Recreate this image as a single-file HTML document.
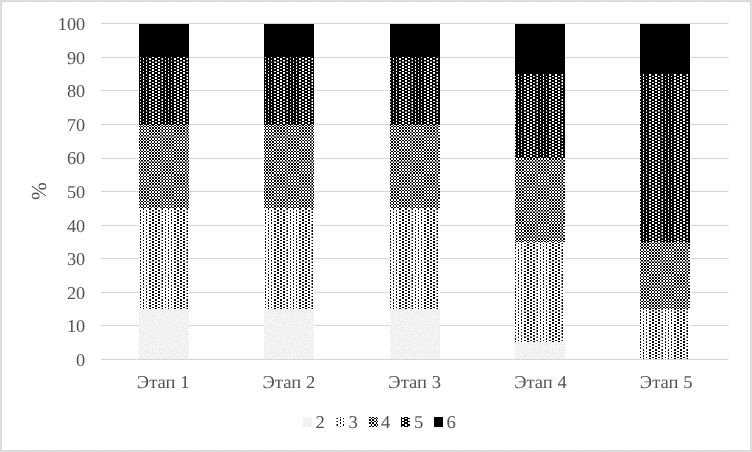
<!DOCTYPE html><html><head><meta charset="utf-8"><title>chart</title><style>html,body{margin:0;padding:0;background:#fff}.t{font-family:"Liberation Serif",serif;font-size:18.1px;fill:#525252;text-rendering:geometricPrecision}</style></head><body><svg width="752" height="452" viewBox="0 0 752 452" style="display:block">
<defs><pattern id="p3" patternUnits="userSpaceOnUse" x="24" y="13" width="25" height="25"><rect width="25" height="25" fill="#ffffff"/><g shape-rendering="crispEdges"><rect x="3" y="0" width="2" height="1" fill="#000000"/><rect x="9" y="0" width="2" height="1" fill="#000000"/><rect x="16" y="0" width="1" height="1" fill="#000000"/><rect x="22" y="0" width="1" height="1" fill="#000000"/><rect x="3" y="1" width="2" height="1" fill="#000000"/><rect x="9" y="1" width="2" height="1" fill="#000000"/><rect x="16" y="1" width="1" height="1" fill="#000000"/><rect x="22" y="1" width="1" height="1" fill="#000000"/><rect x="0" y="2" width="2" height="1" fill="#000000"/><rect x="6" y="2" width="2" height="1" fill="#000000"/><rect x="12" y="2" width="1" height="1" fill="#808080"/><rect x="13" y="2" width="1" height="1" fill="#000000"/><rect x="19" y="2" width="1" height="1" fill="#000000"/><rect x="3" y="3" width="2" height="1" fill="#000000"/><rect x="9" y="3" width="2" height="1" fill="#000000"/><rect x="16" y="3" width="1" height="1" fill="#000000"/><rect x="22" y="3" width="1" height="1" fill="#000000"/><rect x="3" y="4" width="2" height="1" fill="#000000"/><rect x="9" y="4" width="2" height="1" fill="#000000"/><rect x="16" y="4" width="1" height="1" fill="#000000"/><rect x="22" y="4" width="1" height="1" fill="#000000"/><rect x="0" y="5" width="2" height="1" fill="#000000"/><rect x="6" y="5" width="2" height="1" fill="#000000"/><rect x="12" y="5" width="1" height="1" fill="#808080"/><rect x="13" y="5" width="1" height="1" fill="#000000"/><rect x="19" y="5" width="1" height="1" fill="#000000"/><rect x="3" y="6" width="2" height="1" fill="#000000"/><rect x="9" y="6" width="2" height="1" fill="#000000"/><rect x="16" y="6" width="1" height="1" fill="#000000"/><rect x="22" y="6" width="1" height="1" fill="#000000"/><rect x="3" y="7" width="2" height="1" fill="#000000"/><rect x="9" y="7" width="2" height="1" fill="#000000"/><rect x="16" y="7" width="1" height="1" fill="#000000"/><rect x="22" y="7" width="1" height="1" fill="#000000"/><rect x="0" y="8" width="2" height="1" fill="#000000"/><rect x="6" y="8" width="2" height="1" fill="#000000"/><rect x="12" y="8" width="1" height="1" fill="#808080"/><rect x="13" y="8" width="1" height="1" fill="#000000"/><rect x="19" y="8" width="1" height="1" fill="#000000"/><rect x="3" y="9" width="2" height="1" fill="#000000"/><rect x="9" y="9" width="2" height="1" fill="#000000"/><rect x="16" y="9" width="1" height="1" fill="#000000"/><rect x="22" y="9" width="1" height="1" fill="#000000"/><rect x="3" y="10" width="2" height="1" fill="#000000"/><rect x="9" y="10" width="2" height="1" fill="#000000"/><rect x="16" y="10" width="1" height="1" fill="#000000"/><rect x="22" y="10" width="1" height="1" fill="#000000"/><rect x="0" y="11" width="2" height="1" fill="#000000"/><rect x="6" y="11" width="2" height="1" fill="#000000"/><rect x="12" y="11" width="1" height="1" fill="#808080"/><rect x="13" y="11" width="1" height="1" fill="#000000"/><rect x="19" y="11" width="1" height="1" fill="#000000"/><rect x="0" y="12" width="2" height="1" fill="#000000"/><rect x="6" y="12" width="2" height="1" fill="#000000"/><rect x="12" y="12" width="1" height="1" fill="#808080"/><rect x="13" y="12" width="1" height="1" fill="#000000"/><rect x="19" y="12" width="1" height="1" fill="#000000"/><rect x="3" y="13" width="2" height="1" fill="#000000"/><rect x="9" y="13" width="2" height="1" fill="#000000"/><rect x="16" y="13" width="1" height="1" fill="#000000"/><rect x="22" y="13" width="1" height="1" fill="#000000"/><rect x="0" y="14" width="2" height="1" fill="#000000"/><rect x="6" y="14" width="2" height="1" fill="#000000"/><rect x="12" y="14" width="1" height="1" fill="#808080"/><rect x="13" y="14" width="1" height="1" fill="#000000"/><rect x="19" y="14" width="1" height="1" fill="#000000"/><rect x="0" y="15" width="2" height="1" fill="#000000"/><rect x="6" y="15" width="2" height="1" fill="#000000"/><rect x="12" y="15" width="1" height="1" fill="#808080"/><rect x="13" y="15" width="1" height="1" fill="#000000"/><rect x="19" y="15" width="1" height="1" fill="#000000"/><rect x="3" y="16" width="2" height="1" fill="#000000"/><rect x="9" y="16" width="2" height="1" fill="#000000"/><rect x="16" y="16" width="1" height="1" fill="#000000"/><rect x="22" y="16" width="1" height="1" fill="#000000"/><rect x="0" y="17" width="2" height="1" fill="#000000"/><rect x="6" y="17" width="2" height="1" fill="#000000"/><rect x="12" y="17" width="1" height="1" fill="#808080"/><rect x="13" y="17" width="1" height="1" fill="#000000"/><rect x="19" y="17" width="1" height="1" fill="#000000"/><rect x="0" y="18" width="2" height="1" fill="#000000"/><rect x="6" y="18" width="2" height="1" fill="#000000"/><rect x="12" y="18" width="1" height="1" fill="#808080"/><rect x="13" y="18" width="1" height="1" fill="#000000"/><rect x="19" y="18" width="1" height="1" fill="#000000"/><rect x="3" y="19" width="2" height="1" fill="#000000"/><rect x="9" y="19" width="2" height="1" fill="#000000"/><rect x="16" y="19" width="1" height="1" fill="#000000"/><rect x="22" y="19" width="1" height="1" fill="#000000"/><rect x="0" y="20" width="2" height="1" fill="#000000"/><rect x="6" y="20" width="2" height="1" fill="#000000"/><rect x="12" y="20" width="1" height="1" fill="#808080"/><rect x="13" y="20" width="1" height="1" fill="#000000"/><rect x="19" y="20" width="1" height="1" fill="#000000"/><rect x="0" y="21" width="2" height="1" fill="#000000"/><rect x="6" y="21" width="2" height="1" fill="#000000"/><rect x="12" y="21" width="1" height="1" fill="#808080"/><rect x="13" y="21" width="1" height="1" fill="#000000"/><rect x="19" y="21" width="1" height="1" fill="#000000"/><rect x="3" y="22" width="2" height="1" fill="#000000"/><rect x="9" y="22" width="2" height="1" fill="#000000"/><rect x="16" y="22" width="1" height="1" fill="#000000"/><rect x="22" y="22" width="1" height="1" fill="#000000"/><rect x="0" y="23" width="2" height="1" fill="#808080"/><rect x="3" y="23" width="2" height="1" fill="#808080"/><rect x="6" y="23" width="2" height="1" fill="#808080"/><rect x="9" y="23" width="2" height="1" fill="#808080"/><rect x="12" y="23" width="1" height="1" fill="#bfbfbf"/><rect x="13" y="23" width="1" height="1" fill="#808080"/><rect x="16" y="23" width="1" height="1" fill="#808080"/><rect x="19" y="23" width="1" height="1" fill="#808080"/><rect x="22" y="23" width="1" height="1" fill="#808080"/><rect x="0" y="24" width="2" height="1" fill="#000000"/><rect x="6" y="24" width="2" height="1" fill="#000000"/><rect x="12" y="24" width="1" height="1" fill="#808080"/><rect x="13" y="24" width="1" height="1" fill="#000000"/><rect x="19" y="24" width="1" height="1" fill="#000000"/></g></pattern><pattern id="p5" patternUnits="userSpaceOnUse" x="24" y="13" width="25" height="25"><rect width="25" height="25" fill="#ffffff"/><g shape-rendering="crispEdges"><rect x="0" y="0" width="3" height="1" fill="#000000"/><rect x="5" y="0" width="4" height="1" fill="#000000"/><rect x="11" y="0" width="5" height="1" fill="#000000"/><rect x="17" y="0" width="5" height="1" fill="#000000"/><rect x="23" y="0" width="2" height="1" fill="#000000"/><rect x="0" y="1" width="3" height="1" fill="#000000"/><rect x="5" y="1" width="4" height="1" fill="#000000"/><rect x="11" y="1" width="5" height="1" fill="#000000"/><rect x="17" y="1" width="5" height="1" fill="#000000"/><rect x="23" y="1" width="2" height="1" fill="#000000"/><rect x="2" y="2" width="4" height="1" fill="#000000"/><rect x="8" y="2" width="4" height="1" fill="#000000"/><rect x="12" y="2" width="1" height="1" fill="#808080"/><rect x="14" y="2" width="5" height="1" fill="#000000"/><rect x="20" y="2" width="5" height="1" fill="#000000"/><rect x="0" y="3" width="3" height="1" fill="#000000"/><rect x="5" y="3" width="4" height="1" fill="#000000"/><rect x="11" y="3" width="5" height="1" fill="#000000"/><rect x="17" y="3" width="5" height="1" fill="#000000"/><rect x="23" y="3" width="2" height="1" fill="#000000"/><rect x="0" y="4" width="3" height="1" fill="#000000"/><rect x="5" y="4" width="4" height="1" fill="#000000"/><rect x="11" y="4" width="5" height="1" fill="#000000"/><rect x="17" y="4" width="5" height="1" fill="#000000"/><rect x="23" y="4" width="2" height="1" fill="#000000"/><rect x="2" y="5" width="4" height="1" fill="#000000"/><rect x="8" y="5" width="4" height="1" fill="#000000"/><rect x="12" y="5" width="1" height="1" fill="#808080"/><rect x="14" y="5" width="5" height="1" fill="#000000"/><rect x="20" y="5" width="5" height="1" fill="#000000"/><rect x="0" y="6" width="3" height="1" fill="#000000"/><rect x="5" y="6" width="4" height="1" fill="#000000"/><rect x="11" y="6" width="5" height="1" fill="#000000"/><rect x="17" y="6" width="5" height="1" fill="#000000"/><rect x="23" y="6" width="2" height="1" fill="#000000"/><rect x="0" y="7" width="3" height="1" fill="#000000"/><rect x="5" y="7" width="4" height="1" fill="#000000"/><rect x="11" y="7" width="5" height="1" fill="#000000"/><rect x="17" y="7" width="5" height="1" fill="#000000"/><rect x="23" y="7" width="2" height="1" fill="#000000"/><rect x="2" y="8" width="4" height="1" fill="#000000"/><rect x="8" y="8" width="4" height="1" fill="#000000"/><rect x="12" y="8" width="1" height="1" fill="#808080"/><rect x="14" y="8" width="5" height="1" fill="#000000"/><rect x="20" y="8" width="5" height="1" fill="#000000"/><rect x="0" y="9" width="3" height="1" fill="#000000"/><rect x="5" y="9" width="4" height="1" fill="#000000"/><rect x="11" y="9" width="5" height="1" fill="#000000"/><rect x="17" y="9" width="5" height="1" fill="#000000"/><rect x="23" y="9" width="2" height="1" fill="#000000"/><rect x="0" y="10" width="3" height="1" fill="#000000"/><rect x="5" y="10" width="4" height="1" fill="#000000"/><rect x="11" y="10" width="5" height="1" fill="#000000"/><rect x="17" y="10" width="5" height="1" fill="#000000"/><rect x="23" y="10" width="2" height="1" fill="#000000"/><rect x="2" y="11" width="4" height="1" fill="#000000"/><rect x="8" y="11" width="4" height="1" fill="#000000"/><rect x="12" y="11" width="1" height="1" fill="#808080"/><rect x="14" y="11" width="5" height="1" fill="#000000"/><rect x="20" y="11" width="5" height="1" fill="#000000"/><rect x="2" y="12" width="4" height="1" fill="#000000"/><rect x="8" y="12" width="4" height="1" fill="#000000"/><rect x="12" y="12" width="1" height="1" fill="#808080"/><rect x="14" y="12" width="5" height="1" fill="#000000"/><rect x="20" y="12" width="5" height="1" fill="#000000"/><rect x="0" y="13" width="3" height="1" fill="#000000"/><rect x="5" y="13" width="4" height="1" fill="#000000"/><rect x="11" y="13" width="5" height="1" fill="#000000"/><rect x="17" y="13" width="5" height="1" fill="#000000"/><rect x="23" y="13" width="2" height="1" fill="#000000"/><rect x="2" y="14" width="4" height="1" fill="#000000"/><rect x="8" y="14" width="4" height="1" fill="#000000"/><rect x="12" y="14" width="1" height="1" fill="#808080"/><rect x="14" y="14" width="5" height="1" fill="#000000"/><rect x="20" y="14" width="5" height="1" fill="#000000"/><rect x="2" y="15" width="4" height="1" fill="#000000"/><rect x="8" y="15" width="4" height="1" fill="#000000"/><rect x="12" y="15" width="1" height="1" fill="#808080"/><rect x="14" y="15" width="5" height="1" fill="#000000"/><rect x="20" y="15" width="5" height="1" fill="#000000"/><rect x="0" y="16" width="3" height="1" fill="#000000"/><rect x="5" y="16" width="4" height="1" fill="#000000"/><rect x="11" y="16" width="5" height="1" fill="#000000"/><rect x="17" y="16" width="5" height="1" fill="#000000"/><rect x="23" y="16" width="2" height="1" fill="#000000"/><rect x="2" y="17" width="4" height="1" fill="#000000"/><rect x="8" y="17" width="4" height="1" fill="#000000"/><rect x="12" y="17" width="1" height="1" fill="#808080"/><rect x="14" y="17" width="5" height="1" fill="#000000"/><rect x="20" y="17" width="5" height="1" fill="#000000"/><rect x="2" y="18" width="4" height="1" fill="#000000"/><rect x="8" y="18" width="4" height="1" fill="#000000"/><rect x="12" y="18" width="1" height="1" fill="#808080"/><rect x="14" y="18" width="5" height="1" fill="#000000"/><rect x="20" y="18" width="5" height="1" fill="#000000"/><rect x="0" y="19" width="3" height="1" fill="#000000"/><rect x="5" y="19" width="4" height="1" fill="#000000"/><rect x="11" y="19" width="5" height="1" fill="#000000"/><rect x="17" y="19" width="5" height="1" fill="#000000"/><rect x="23" y="19" width="2" height="1" fill="#000000"/><rect x="2" y="20" width="4" height="1" fill="#000000"/><rect x="8" y="20" width="4" height="1" fill="#000000"/><rect x="12" y="20" width="1" height="1" fill="#808080"/><rect x="14" y="20" width="5" height="1" fill="#000000"/><rect x="20" y="20" width="5" height="1" fill="#000000"/><rect x="2" y="21" width="4" height="1" fill="#000000"/><rect x="8" y="21" width="4" height="1" fill="#000000"/><rect x="12" y="21" width="1" height="1" fill="#808080"/><rect x="14" y="21" width="5" height="1" fill="#000000"/><rect x="20" y="21" width="5" height="1" fill="#000000"/><rect x="0" y="22" width="3" height="1" fill="#000000"/><rect x="5" y="22" width="4" height="1" fill="#000000"/><rect x="11" y="22" width="5" height="1" fill="#000000"/><rect x="17" y="22" width="5" height="1" fill="#000000"/><rect x="23" y="22" width="2" height="1" fill="#000000"/><rect x="0" y="23" width="2" height="1" fill="#808080"/><rect x="2" y="23" width="1" height="1" fill="#000000"/><rect x="3" y="23" width="2" height="1" fill="#808080"/><rect x="5" y="23" width="1" height="1" fill="#000000"/><rect x="6" y="23" width="2" height="1" fill="#808080"/><rect x="8" y="23" width="1" height="1" fill="#000000"/><rect x="9" y="23" width="2" height="1" fill="#808080"/><rect x="11" y="23" width="1" height="1" fill="#000000"/><rect x="12" y="23" width="1" height="1" fill="#404040"/><rect x="13" y="23" width="1" height="1" fill="#808080"/><rect x="14" y="23" width="2" height="1" fill="#000000"/><rect x="16" y="23" width="1" height="1" fill="#808080"/><rect x="17" y="23" width="2" height="1" fill="#000000"/><rect x="19" y="23" width="1" height="1" fill="#808080"/><rect x="20" y="23" width="2" height="1" fill="#000000"/><rect x="22" y="23" width="1" height="1" fill="#808080"/><rect x="23" y="23" width="2" height="1" fill="#000000"/><rect x="2" y="24" width="4" height="1" fill="#000000"/><rect x="8" y="24" width="4" height="1" fill="#000000"/><rect x="12" y="24" width="1" height="1" fill="#808080"/><rect x="14" y="24" width="5" height="1" fill="#000000"/><rect x="20" y="24" width="5" height="1" fill="#000000"/></g></pattern><pattern id="p4" patternUnits="userSpaceOnUse" x="24" y="13" width="25" height="25"><rect width="25" height="25" fill="#ffffff"/><g shape-rendering="crispEdges"><rect x="2" y="0" width="1" height="1" fill="#000000"/><rect x="5" y="0" width="1" height="1" fill="#000000"/><rect x="8" y="0" width="1" height="1" fill="#000000"/><rect x="11" y="0" width="1" height="1" fill="#000000"/><rect x="12" y="0" width="1" height="1" fill="#808080"/><rect x="14" y="0" width="2" height="1" fill="#000000"/><rect x="17" y="0" width="2" height="1" fill="#000000"/><rect x="20" y="0" width="2" height="1" fill="#000000"/><rect x="23" y="0" width="2" height="1" fill="#000000"/><rect x="2" y="1" width="1" height="1" fill="#000000"/><rect x="5" y="1" width="1" height="1" fill="#000000"/><rect x="8" y="1" width="1" height="1" fill="#000000"/><rect x="11" y="1" width="1" height="1" fill="#000000"/><rect x="12" y="1" width="1" height="1" fill="#808080"/><rect x="14" y="1" width="2" height="1" fill="#000000"/><rect x="17" y="1" width="2" height="1" fill="#000000"/><rect x="20" y="1" width="2" height="1" fill="#000000"/><rect x="23" y="1" width="2" height="1" fill="#000000"/><rect x="0" y="2" width="2" height="1" fill="#000000"/><rect x="3" y="2" width="2" height="1" fill="#000000"/><rect x="6" y="2" width="2" height="1" fill="#000000"/><rect x="9" y="2" width="2" height="1" fill="#000000"/><rect x="12" y="2" width="1" height="1" fill="#808080"/><rect x="13" y="2" width="1" height="1" fill="#000000"/><rect x="16" y="2" width="1" height="1" fill="#000000"/><rect x="19" y="2" width="1" height="1" fill="#000000"/><rect x="22" y="2" width="1" height="1" fill="#000000"/><rect x="2" y="3" width="1" height="1" fill="#000000"/><rect x="5" y="3" width="1" height="1" fill="#000000"/><rect x="8" y="3" width="1" height="1" fill="#000000"/><rect x="11" y="3" width="1" height="1" fill="#000000"/><rect x="12" y="3" width="1" height="1" fill="#808080"/><rect x="14" y="3" width="2" height="1" fill="#000000"/><rect x="17" y="3" width="2" height="1" fill="#000000"/><rect x="20" y="3" width="2" height="1" fill="#000000"/><rect x="23" y="3" width="2" height="1" fill="#000000"/><rect x="2" y="4" width="1" height="1" fill="#000000"/><rect x="5" y="4" width="1" height="1" fill="#000000"/><rect x="8" y="4" width="1" height="1" fill="#000000"/><rect x="11" y="4" width="1" height="1" fill="#000000"/><rect x="12" y="4" width="1" height="1" fill="#808080"/><rect x="14" y="4" width="2" height="1" fill="#000000"/><rect x="17" y="4" width="2" height="1" fill="#000000"/><rect x="20" y="4" width="2" height="1" fill="#000000"/><rect x="23" y="4" width="2" height="1" fill="#000000"/><rect x="0" y="5" width="2" height="1" fill="#000000"/><rect x="3" y="5" width="2" height="1" fill="#000000"/><rect x="6" y="5" width="2" height="1" fill="#000000"/><rect x="9" y="5" width="2" height="1" fill="#000000"/><rect x="12" y="5" width="1" height="1" fill="#808080"/><rect x="13" y="5" width="1" height="1" fill="#000000"/><rect x="16" y="5" width="1" height="1" fill="#000000"/><rect x="19" y="5" width="1" height="1" fill="#000000"/><rect x="22" y="5" width="1" height="1" fill="#000000"/><rect x="2" y="6" width="1" height="1" fill="#000000"/><rect x="5" y="6" width="1" height="1" fill="#000000"/><rect x="8" y="6" width="1" height="1" fill="#000000"/><rect x="11" y="6" width="1" height="1" fill="#000000"/><rect x="12" y="6" width="1" height="1" fill="#808080"/><rect x="14" y="6" width="2" height="1" fill="#000000"/><rect x="17" y="6" width="2" height="1" fill="#000000"/><rect x="20" y="6" width="2" height="1" fill="#000000"/><rect x="23" y="6" width="2" height="1" fill="#000000"/><rect x="2" y="7" width="1" height="1" fill="#000000"/><rect x="5" y="7" width="1" height="1" fill="#000000"/><rect x="8" y="7" width="1" height="1" fill="#000000"/><rect x="11" y="7" width="1" height="1" fill="#000000"/><rect x="12" y="7" width="1" height="1" fill="#808080"/><rect x="14" y="7" width="2" height="1" fill="#000000"/><rect x="17" y="7" width="2" height="1" fill="#000000"/><rect x="20" y="7" width="2" height="1" fill="#000000"/><rect x="23" y="7" width="2" height="1" fill="#000000"/><rect x="0" y="8" width="2" height="1" fill="#000000"/><rect x="3" y="8" width="2" height="1" fill="#000000"/><rect x="6" y="8" width="2" height="1" fill="#000000"/><rect x="9" y="8" width="2" height="1" fill="#000000"/><rect x="12" y="8" width="1" height="1" fill="#808080"/><rect x="13" y="8" width="1" height="1" fill="#000000"/><rect x="16" y="8" width="1" height="1" fill="#000000"/><rect x="19" y="8" width="1" height="1" fill="#000000"/><rect x="22" y="8" width="1" height="1" fill="#000000"/><rect x="2" y="9" width="1" height="1" fill="#000000"/><rect x="5" y="9" width="1" height="1" fill="#000000"/><rect x="8" y="9" width="1" height="1" fill="#000000"/><rect x="11" y="9" width="1" height="1" fill="#000000"/><rect x="12" y="9" width="1" height="1" fill="#808080"/><rect x="14" y="9" width="2" height="1" fill="#000000"/><rect x="17" y="9" width="2" height="1" fill="#000000"/><rect x="20" y="9" width="2" height="1" fill="#000000"/><rect x="23" y="9" width="2" height="1" fill="#000000"/><rect x="2" y="10" width="1" height="1" fill="#000000"/><rect x="5" y="10" width="1" height="1" fill="#000000"/><rect x="8" y="10" width="1" height="1" fill="#000000"/><rect x="11" y="10" width="1" height="1" fill="#000000"/><rect x="12" y="10" width="1" height="1" fill="#808080"/><rect x="14" y="10" width="2" height="1" fill="#000000"/><rect x="17" y="10" width="2" height="1" fill="#000000"/><rect x="20" y="10" width="2" height="1" fill="#000000"/><rect x="23" y="10" width="2" height="1" fill="#000000"/><rect x="0" y="11" width="2" height="1" fill="#000000"/><rect x="3" y="11" width="2" height="1" fill="#000000"/><rect x="6" y="11" width="2" height="1" fill="#000000"/><rect x="9" y="11" width="2" height="1" fill="#000000"/><rect x="12" y="11" width="1" height="1" fill="#808080"/><rect x="13" y="11" width="1" height="1" fill="#000000"/><rect x="16" y="11" width="1" height="1" fill="#000000"/><rect x="19" y="11" width="1" height="1" fill="#000000"/><rect x="22" y="11" width="1" height="1" fill="#000000"/><rect x="0" y="12" width="2" height="1" fill="#000000"/><rect x="3" y="12" width="2" height="1" fill="#000000"/><rect x="6" y="12" width="2" height="1" fill="#000000"/><rect x="9" y="12" width="2" height="1" fill="#000000"/><rect x="12" y="12" width="1" height="1" fill="#808080"/><rect x="13" y="12" width="1" height="1" fill="#000000"/><rect x="16" y="12" width="1" height="1" fill="#000000"/><rect x="19" y="12" width="1" height="1" fill="#000000"/><rect x="22" y="12" width="1" height="1" fill="#000000"/><rect x="2" y="13" width="1" height="1" fill="#000000"/><rect x="5" y="13" width="1" height="1" fill="#000000"/><rect x="8" y="13" width="1" height="1" fill="#000000"/><rect x="11" y="13" width="1" height="1" fill="#000000"/><rect x="12" y="13" width="1" height="1" fill="#808080"/><rect x="14" y="13" width="2" height="1" fill="#000000"/><rect x="17" y="13" width="2" height="1" fill="#000000"/><rect x="20" y="13" width="2" height="1" fill="#000000"/><rect x="23" y="13" width="2" height="1" fill="#000000"/><rect x="0" y="14" width="2" height="1" fill="#000000"/><rect x="3" y="14" width="2" height="1" fill="#000000"/><rect x="6" y="14" width="2" height="1" fill="#000000"/><rect x="9" y="14" width="2" height="1" fill="#000000"/><rect x="12" y="14" width="1" height="1" fill="#808080"/><rect x="13" y="14" width="1" height="1" fill="#000000"/><rect x="16" y="14" width="1" height="1" fill="#000000"/><rect x="19" y="14" width="1" height="1" fill="#000000"/><rect x="22" y="14" width="1" height="1" fill="#000000"/><rect x="0" y="15" width="2" height="1" fill="#000000"/><rect x="3" y="15" width="2" height="1" fill="#000000"/><rect x="6" y="15" width="2" height="1" fill="#000000"/><rect x="9" y="15" width="2" height="1" fill="#000000"/><rect x="12" y="15" width="1" height="1" fill="#808080"/><rect x="13" y="15" width="1" height="1" fill="#000000"/><rect x="16" y="15" width="1" height="1" fill="#000000"/><rect x="19" y="15" width="1" height="1" fill="#000000"/><rect x="22" y="15" width="1" height="1" fill="#000000"/><rect x="2" y="16" width="1" height="1" fill="#000000"/><rect x="5" y="16" width="1" height="1" fill="#000000"/><rect x="8" y="16" width="1" height="1" fill="#000000"/><rect x="11" y="16" width="1" height="1" fill="#000000"/><rect x="12" y="16" width="1" height="1" fill="#808080"/><rect x="14" y="16" width="2" height="1" fill="#000000"/><rect x="17" y="16" width="2" height="1" fill="#000000"/><rect x="20" y="16" width="2" height="1" fill="#000000"/><rect x="23" y="16" width="2" height="1" fill="#000000"/><rect x="0" y="17" width="2" height="1" fill="#000000"/><rect x="3" y="17" width="2" height="1" fill="#000000"/><rect x="6" y="17" width="2" height="1" fill="#000000"/><rect x="9" y="17" width="2" height="1" fill="#000000"/><rect x="12" y="17" width="1" height="1" fill="#808080"/><rect x="13" y="17" width="1" height="1" fill="#000000"/><rect x="16" y="17" width="1" height="1" fill="#000000"/><rect x="19" y="17" width="1" height="1" fill="#000000"/><rect x="22" y="17" width="1" height="1" fill="#000000"/><rect x="0" y="18" width="2" height="1" fill="#000000"/><rect x="3" y="18" width="2" height="1" fill="#000000"/><rect x="6" y="18" width="2" height="1" fill="#000000"/><rect x="9" y="18" width="2" height="1" fill="#000000"/><rect x="12" y="18" width="1" height="1" fill="#808080"/><rect x="13" y="18" width="1" height="1" fill="#000000"/><rect x="16" y="18" width="1" height="1" fill="#000000"/><rect x="19" y="18" width="1" height="1" fill="#000000"/><rect x="22" y="18" width="1" height="1" fill="#000000"/><rect x="2" y="19" width="1" height="1" fill="#000000"/><rect x="5" y="19" width="1" height="1" fill="#000000"/><rect x="8" y="19" width="1" height="1" fill="#000000"/><rect x="11" y="19" width="1" height="1" fill="#000000"/><rect x="12" y="19" width="1" height="1" fill="#808080"/><rect x="14" y="19" width="2" height="1" fill="#000000"/><rect x="17" y="19" width="2" height="1" fill="#000000"/><rect x="20" y="19" width="2" height="1" fill="#000000"/><rect x="23" y="19" width="2" height="1" fill="#000000"/><rect x="0" y="20" width="2" height="1" fill="#000000"/><rect x="3" y="20" width="2" height="1" fill="#000000"/><rect x="6" y="20" width="2" height="1" fill="#000000"/><rect x="9" y="20" width="2" height="1" fill="#000000"/><rect x="12" y="20" width="1" height="1" fill="#808080"/><rect x="13" y="20" width="1" height="1" fill="#000000"/><rect x="16" y="20" width="1" height="1" fill="#000000"/><rect x="19" y="20" width="1" height="1" fill="#000000"/><rect x="22" y="20" width="1" height="1" fill="#000000"/><rect x="0" y="21" width="2" height="1" fill="#000000"/><rect x="3" y="21" width="2" height="1" fill="#000000"/><rect x="6" y="21" width="2" height="1" fill="#000000"/><rect x="9" y="21" width="2" height="1" fill="#000000"/><rect x="12" y="21" width="1" height="1" fill="#808080"/><rect x="13" y="21" width="1" height="1" fill="#000000"/><rect x="16" y="21" width="1" height="1" fill="#000000"/><rect x="19" y="21" width="1" height="1" fill="#000000"/><rect x="22" y="21" width="1" height="1" fill="#000000"/><rect x="2" y="22" width="1" height="1" fill="#000000"/><rect x="5" y="22" width="1" height="1" fill="#000000"/><rect x="8" y="22" width="1" height="1" fill="#000000"/><rect x="11" y="22" width="1" height="1" fill="#000000"/><rect x="12" y="22" width="1" height="1" fill="#808080"/><rect x="14" y="22" width="2" height="1" fill="#000000"/><rect x="17" y="22" width="2" height="1" fill="#000000"/><rect x="20" y="22" width="2" height="1" fill="#000000"/><rect x="23" y="22" width="2" height="1" fill="#000000"/><rect x="0" y="23" width="25" height="1" fill="#808080"/><rect x="0" y="24" width="2" height="1" fill="#000000"/><rect x="3" y="24" width="2" height="1" fill="#000000"/><rect x="6" y="24" width="2" height="1" fill="#000000"/><rect x="9" y="24" width="2" height="1" fill="#000000"/><rect x="12" y="24" width="1" height="1" fill="#808080"/><rect x="13" y="24" width="1" height="1" fill="#000000"/><rect x="16" y="24" width="1" height="1" fill="#000000"/><rect x="19" y="24" width="1" height="1" fill="#000000"/><rect x="22" y="24" width="1" height="1" fill="#000000"/></g></pattern><pattern id="p2" patternUnits="userSpaceOnUse" x="0" y="0" width="25" height="25"><rect width="25" height="25" fill="#eeeeee"/><g fill="#fff" shape-rendering="crispEdges"><rect x="0" y="1" width="1" height="1"/><rect x="0" y="3" width="1" height="1"/><rect x="0" y="8" width="1" height="1"/><rect x="0" y="12" width="1" height="1"/><rect x="0" y="15" width="1" height="1"/><rect x="0" y="17" width="1" height="1"/><rect x="0" y="19" width="1" height="1"/><rect x="1" y="0" width="1" height="1"/><rect x="1" y="7" width="1" height="1"/><rect x="1" y="10" width="1" height="1"/><rect x="1" y="14" width="1" height="1"/><rect x="1" y="20" width="1" height="1"/><rect x="1" y="23" width="1" height="1"/><rect x="2" y="5" width="1" height="1"/><rect x="2" y="8" width="1" height="1"/><rect x="2" y="18" width="1" height="1"/><rect x="3" y="3" width="1" height="1"/><rect x="3" y="9" width="1" height="1"/><rect x="3" y="12" width="1" height="1"/><rect x="3" y="14" width="1" height="1"/><rect x="3" y="19" width="1" height="1"/><rect x="3" y="23" width="1" height="1"/><rect x="4" y="1" width="1" height="1"/><rect x="4" y="7" width="1" height="1"/><rect x="4" y="11" width="1" height="1"/><rect x="4" y="17" width="1" height="1"/><rect x="4" y="21" width="1" height="1"/><rect x="5" y="0" width="1" height="1"/><rect x="5" y="5" width="1" height="1"/><rect x="5" y="14" width="1" height="1"/><rect x="5" y="20" width="1" height="1"/><rect x="5" y="23" width="1" height="1"/><rect x="6" y="1" width="1" height="1"/><rect x="6" y="3" width="1" height="1"/><rect x="6" y="7" width="1" height="1"/><rect x="6" y="11" width="1" height="1"/><rect x="6" y="17" width="1" height="1"/><rect x="7" y="5" width="1" height="1"/><rect x="7" y="15" width="1" height="1"/><rect x="7" y="18" width="1" height="1"/><rect x="7" y="20" width="1" height="1"/><rect x="7" y="22" width="1" height="1"/><rect x="7" y="24" width="1" height="1"/><rect x="8" y="7" width="1" height="1"/><rect x="8" y="9" width="1" height="1"/><rect x="8" y="11" width="1" height="1"/><rect x="8" y="13" width="1" height="1"/><rect x="8" y="16" width="1" height="1"/><rect x="8" y="21" width="1" height="1"/><rect x="9" y="2" width="1" height="1"/><rect x="9" y="4" width="1" height="1"/><rect x="9" y="10" width="1" height="1"/><rect x="9" y="14" width="1" height="1"/><rect x="9" y="18" width="1" height="1"/><rect x="10" y="1" width="1" height="1"/><rect x="10" y="5" width="1" height="1"/><rect x="10" y="8" width="1" height="1"/><rect x="10" y="12" width="1" height="1"/><rect x="10" y="16" width="1" height="1"/><rect x="10" y="21" width="1" height="1"/><rect x="11" y="7" width="1" height="1"/><rect x="11" y="10" width="1" height="1"/><rect x="11" y="13" width="1" height="1"/><rect x="11" y="17" width="1" height="1"/><rect x="11" y="20" width="1" height="1"/><rect x="11" y="24" width="1" height="1"/><rect x="12" y="4" width="1" height="1"/><rect x="12" y="11" width="1" height="1"/><rect x="12" y="23" width="1" height="1"/><rect x="13" y="1" width="1" height="1"/><rect x="13" y="3" width="1" height="1"/><rect x="13" y="5" width="1" height="1"/><rect x="13" y="7" width="1" height="1"/><rect x="13" y="13" width="1" height="1"/><rect x="13" y="15" width="1" height="1"/><rect x="13" y="17" width="1" height="1"/><rect x="13" y="20" width="1" height="1"/><rect x="13" y="22" width="1" height="1"/><rect x="14" y="10" width="1" height="1"/><rect x="15" y="0" width="1" height="1"/><rect x="15" y="2" width="1" height="1"/><rect x="15" y="7" width="1" height="1"/><rect x="15" y="11" width="1" height="1"/><rect x="15" y="14" width="1" height="1"/><rect x="15" y="16" width="1" height="1"/><rect x="15" y="19" width="1" height="1"/><rect x="15" y="23" width="1" height="1"/><rect x="16" y="3" width="1" height="1"/><rect x="16" y="5" width="1" height="1"/><rect x="16" y="10" width="1" height="1"/><rect x="16" y="15" width="1" height="1"/><rect x="16" y="17" width="1" height="1"/><rect x="16" y="20" width="1" height="1"/><rect x="16" y="22" width="1" height="1"/><rect x="17" y="1" width="1" height="1"/><rect x="17" y="7" width="1" height="1"/><rect x="17" y="13" width="1" height="1"/><rect x="17" y="24" width="1" height="1"/><rect x="18" y="0" width="1" height="1"/><rect x="18" y="3" width="1" height="1"/><rect x="18" y="5" width="1" height="1"/><rect x="18" y="15" width="1" height="1"/><rect x="18" y="19" width="1" height="1"/><rect x="18" y="21" width="1" height="1"/><rect x="19" y="6" width="1" height="1"/><rect x="19" y="9" width="1" height="1"/><rect x="19" y="11" width="1" height="1"/><rect x="19" y="13" width="1" height="1"/><rect x="19" y="17" width="1" height="1"/><rect x="19" y="22" width="1" height="1"/><rect x="20" y="2" width="1" height="1"/><rect x="20" y="4" width="1" height="1"/><rect x="20" y="16" width="1" height="1"/><rect x="20" y="18" width="1" height="1"/><rect x="20" y="20" width="1" height="1"/><rect x="20" y="23" width="1" height="1"/><rect x="21" y="5" width="1" height="1"/><rect x="21" y="7" width="1" height="1"/><rect x="21" y="11" width="1" height="1"/><rect x="21" y="13" width="1" height="1"/><rect x="21" y="21" width="1" height="1"/><rect x="22" y="4" width="1" height="1"/><rect x="22" y="8" width="1" height="1"/><rect x="22" y="15" width="1" height="1"/><rect x="22" y="17" width="1" height="1"/><rect x="22" y="19" width="1" height="1"/><rect x="22" y="24" width="1" height="1"/><rect x="23" y="2" width="1" height="1"/><rect x="23" y="10" width="1" height="1"/><rect x="23" y="13" width="1" height="1"/><rect x="23" y="18" width="1" height="1"/><rect x="23" y="22" width="1" height="1"/><rect x="24" y="5" width="1" height="1"/><rect x="24" y="21" width="1" height="1"/><rect x="24" y="23" width="1" height="1"/></g></pattern></defs>
<rect width="752" height="452" fill="#dedede"/><rect x="2" y="2" width="748" height="448" fill="#fff"/>
<g stroke="#d0d0d0" stroke-width="1" stroke-dasharray="1 2" shape-rendering="crispEdges" fill="none"><line x1="2" y1="1.5" x2="750" y2="1.5"/><line x1="2" y1="450.5" x2="750" y2="450.5"/><line x1="1.5" y1="2" x2="1.5" y2="450"/><line x1="750.5" y1="2" x2="750.5" y2="450"/></g>
<rect x="101" y="359" width="628" height="1" fill="#e6e6e6" shape-rendering="crispEdges"/><line x1="101" y1="359.5" x2="729" y2="359.5" stroke="#c9c9c9" stroke-width="1" stroke-dasharray="1 1" shape-rendering="crispEdges"/>
<text transform="translate(85.2,366.0) scale(1.012,1)" text-anchor="end" class="t">0</text>
<rect x="101" y="325" width="628" height="1" fill="#e6e6e6" shape-rendering="crispEdges"/><line x1="101" y1="325.5" x2="729" y2="325.5" stroke="#c9c9c9" stroke-width="1" stroke-dasharray="1 1" shape-rendering="crispEdges"/>
<text transform="translate(85.2,332.4) scale(1.012,1)" text-anchor="end" class="t">10</text>
<rect x="101" y="292" width="628" height="1" fill="#e6e6e6" shape-rendering="crispEdges"/><line x1="101" y1="292.5" x2="729" y2="292.5" stroke="#c9c9c9" stroke-width="1" stroke-dasharray="1 1" shape-rendering="crispEdges"/>
<text transform="translate(85.2,298.8) scale(1.012,1)" text-anchor="end" class="t">20</text>
<rect x="101" y="258" width="628" height="1" fill="#e6e6e6" shape-rendering="crispEdges"/><line x1="101" y1="258.5" x2="729" y2="258.5" stroke="#c9c9c9" stroke-width="1" stroke-dasharray="1 1" shape-rendering="crispEdges"/>
<text transform="translate(85.2,265.2) scale(1.012,1)" text-anchor="end" class="t">30</text>
<rect x="101" y="225" width="628" height="1" fill="#e6e6e6" shape-rendering="crispEdges"/><line x1="101" y1="225.5" x2="729" y2="225.5" stroke="#c9c9c9" stroke-width="1" stroke-dasharray="1 1" shape-rendering="crispEdges"/>
<text transform="translate(85.2,231.6) scale(1.012,1)" text-anchor="end" class="t">40</text>
<rect x="101" y="191" width="628" height="1" fill="#e6e6e6" shape-rendering="crispEdges"/><line x1="101" y1="191.5" x2="729" y2="191.5" stroke="#c9c9c9" stroke-width="1" stroke-dasharray="1 1" shape-rendering="crispEdges"/>
<text transform="translate(85.2,198.0) scale(1.012,1)" text-anchor="end" class="t">50</text>
<rect x="101" y="158" width="628" height="1" fill="#e6e6e6" shape-rendering="crispEdges"/><line x1="101" y1="158.5" x2="729" y2="158.5" stroke="#c9c9c9" stroke-width="1" stroke-dasharray="1 1" shape-rendering="crispEdges"/>
<text transform="translate(85.2,164.4) scale(1.012,1)" text-anchor="end" class="t">60</text>
<rect x="101" y="124" width="628" height="1" fill="#e6e6e6" shape-rendering="crispEdges"/><line x1="101" y1="124.5" x2="729" y2="124.5" stroke="#c9c9c9" stroke-width="1" stroke-dasharray="1 1" shape-rendering="crispEdges"/>
<text transform="translate(85.2,130.8) scale(1.012,1)" text-anchor="end" class="t">70</text>
<rect x="101" y="90" width="628" height="1" fill="#e6e6e6" shape-rendering="crispEdges"/><line x1="101" y1="90.5" x2="729" y2="90.5" stroke="#c9c9c9" stroke-width="1" stroke-dasharray="1 1" shape-rendering="crispEdges"/>
<text transform="translate(85.2,97.2) scale(1.012,1)" text-anchor="end" class="t">80</text>
<rect x="101" y="57" width="628" height="1" fill="#e6e6e6" shape-rendering="crispEdges"/><line x1="101" y1="57.5" x2="729" y2="57.5" stroke="#c9c9c9" stroke-width="1" stroke-dasharray="1 1" shape-rendering="crispEdges"/>
<text transform="translate(85.2,63.6) scale(1.012,1)" text-anchor="end" class="t">90</text>
<rect x="101" y="23" width="628" height="1" fill="#e6e6e6" shape-rendering="crispEdges"/><line x1="101" y1="23.5" x2="729" y2="23.5" stroke="#c9c9c9" stroke-width="1" stroke-dasharray="1 1" shape-rendering="crispEdges"/>
<text transform="translate(85.2,30.0) scale(1.012,1)" text-anchor="end" class="t">100</text>
<rect x="139" y="309" width="50" height="50" fill="url(#p2)" shape-rendering="crispEdges"/>
<rect x="139" y="208" width="50" height="101" fill="url(#p3)" shape-rendering="crispEdges"/>
<rect x="139" y="125" width="50" height="83" fill="url(#p4)" shape-rendering="crispEdges"/>
<rect x="139" y="57" width="50" height="68" fill="url(#p5)" shape-rendering="crispEdges"/>
<rect x="139" y="24" width="50" height="33" fill="#000" shape-rendering="crispEdges"/>
<text transform="translate(163.2,387.7) scale(1.03,1)" text-anchor="middle" class="t">Этап 1</text>
<rect x="264" y="309" width="50" height="50" fill="url(#p2)" shape-rendering="crispEdges"/>
<rect x="264" y="208" width="50" height="101" fill="url(#p3)" shape-rendering="crispEdges"/>
<rect x="264" y="125" width="50" height="83" fill="url(#p4)" shape-rendering="crispEdges"/>
<rect x="264" y="57" width="50" height="68" fill="url(#p5)" shape-rendering="crispEdges"/>
<rect x="264" y="24" width="50" height="33" fill="#000" shape-rendering="crispEdges"/>
<text transform="translate(288.9,387.7) scale(1.03,1)" text-anchor="middle" class="t">Этап 2</text>
<rect x="390" y="309" width="50" height="50" fill="url(#p2)" shape-rendering="crispEdges"/>
<rect x="390" y="208" width="50" height="101" fill="url(#p3)" shape-rendering="crispEdges"/>
<rect x="390" y="125" width="50" height="83" fill="url(#p4)" shape-rendering="crispEdges"/>
<rect x="390" y="57" width="50" height="68" fill="url(#p5)" shape-rendering="crispEdges"/>
<rect x="390" y="24" width="50" height="33" fill="#000" shape-rendering="crispEdges"/>
<text transform="translate(414.7,387.7) scale(1.03,1)" text-anchor="middle" class="t">Этап 3</text>
<rect x="515" y="342" width="50" height="17" fill="url(#p2)" shape-rendering="crispEdges"/>
<rect x="515" y="242" width="50" height="100" fill="url(#p3)" shape-rendering="crispEdges"/>
<rect x="515" y="158" width="50" height="84" fill="url(#p4)" shape-rendering="crispEdges"/>
<rect x="515" y="74" width="50" height="84" fill="url(#p5)" shape-rendering="crispEdges"/>
<rect x="515" y="24" width="50" height="50" fill="#000" shape-rendering="crispEdges"/>
<text transform="translate(540.5,387.7) scale(1.03,1)" text-anchor="middle" class="t">Этап 4</text>
<rect x="640" y="309" width="50" height="50" fill="url(#p3)" shape-rendering="crispEdges"/>
<rect x="640" y="242" width="50" height="67" fill="url(#p4)" shape-rendering="crispEdges"/>
<rect x="640" y="74" width="50" height="168" fill="url(#p5)" shape-rendering="crispEdges"/>
<rect x="640" y="24" width="50" height="50" fill="#000" shape-rendering="crispEdges"/>
<text transform="translate(666.2,387.7) scale(1.03,1)" text-anchor="middle" class="t">Этап 5</text>
<text transform="translate(46,191) rotate(-90)" text-anchor="middle" class="t" style="font-size:21.33px">%</text>
<rect x="303.0" y="417" width="9" height="9.5" fill="url(#p2)" shape-rendering="crispEdges"/>
<text transform="translate(315.6,427.9) scale(1.03,1)" class="t">2</text>
<rect x="336.0" y="417" width="9" height="9.5" fill="url(#p3)" shape-rendering="crispEdges"/>
<text transform="translate(348.6,427.9) scale(1.03,1)" class="t">3</text>
<rect x="368.5" y="417" width="9" height="9.5" fill="url(#p4)" shape-rendering="crispEdges"/>
<text transform="translate(381.1,427.9) scale(1.03,1)" class="t">4</text>
<rect x="401.3" y="417" width="9" height="9.5" fill="url(#p5)" shape-rendering="crispEdges"/>
<text transform="translate(413.9,427.9) scale(1.03,1)" class="t">5</text>
<rect x="434.0" y="417" width="9" height="9.5" fill="#000" shape-rendering="crispEdges"/>
<text transform="translate(446.6,427.9) scale(1.03,1)" class="t">6</text>
</svg></body></html>
